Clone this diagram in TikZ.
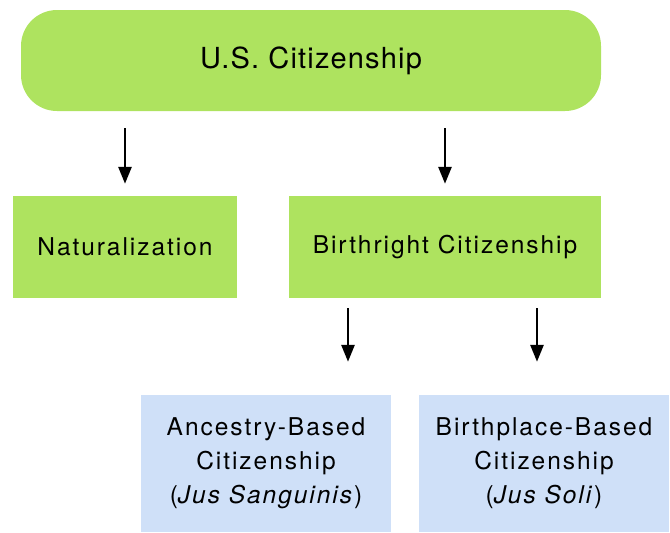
\documentclass[tikz,border=0pt]{standalone}
\usepackage{fontspec}
\setmainfont{TeX Gyre Heros}[LetterSpace=4]
\newfontfamily\boxfont{TeX Gyre Heros}[LetterSpace=8]
\usetikzlibrary{arrows.meta}
\definecolor{boxgreen}{HTML}{AEE35F}
\definecolor{boxblue}{HTML}{CFE0F8}
\tikzset{
    greenbox/.style={fill=boxgreen, inner sep=0pt, minimum height=102pt,
                     font=\boxfont\fontsize{24.5pt}{34pt}\selectfont},
    bluebox/.style={fill=boxblue, inner sep=0pt, minimum width=250pt,
                    minimum height=137pt, align=center,
                    font=\boxfont\fontsize{24.5pt}{34pt}\selectfont},
    arr/.style={-{Triangle[width=13pt,length=17pt]}, line width=2.8pt}
}
\begin{document}
\begin{tikzpicture}[x=1pt, y=-1pt]
\useasboundingbox (0,0) rectangle (670,533);

\begin{scope}[every node/.style={greenbox}]
    \node (US) at (311,60.5) [rounded corners=36pt, minimum width=580pt,
          minimum height=101pt, font=\rmfamily\fontsize{29pt}{34pt}\selectfont] {U.S. Citizenship};
    \node (NAT) at (125,247) [minimum width=224pt] {Naturalization};
    \node (BIRTH) at (445,247) [minimum width=312pt] {Birthright Citizenship};
\end{scope}

\begin{scope}[every node/.style={bluebox}]
    \node (ANC) at (266,463.5) {Ancestry-Based\\Citizenship\\(\textit{Jus Sanguinis})};
    \node (SOLI) at (544,463.5) {Birthplace-Based\\Citizenship\\(\textit{Jus Soli})};
\end{scope}

% US -> Naturalization / Birthright
\draw [arr, shorten <=17pt, shorten >=12pt] (US.south -| NAT.north) -- (NAT.north);
\draw [arr, shorten <=17pt, shorten >=12pt] (US.south -| BIRTH.north) -- (BIRTH.north);
% Birthright -> Ancestry / Birthplace
\draw [arr, shorten <=10pt, shorten >=33pt] ([xshift=-97pt]BIRTH.south) -- ([xshift=-97pt]BIRTH.south |- ANC.north);
\draw [arr, shorten <=10pt, shorten >=33pt] ([xshift=92pt]BIRTH.south) -- ([xshift=92pt]BIRTH.south |- SOLI.north);
\end{tikzpicture}
\end{document}
